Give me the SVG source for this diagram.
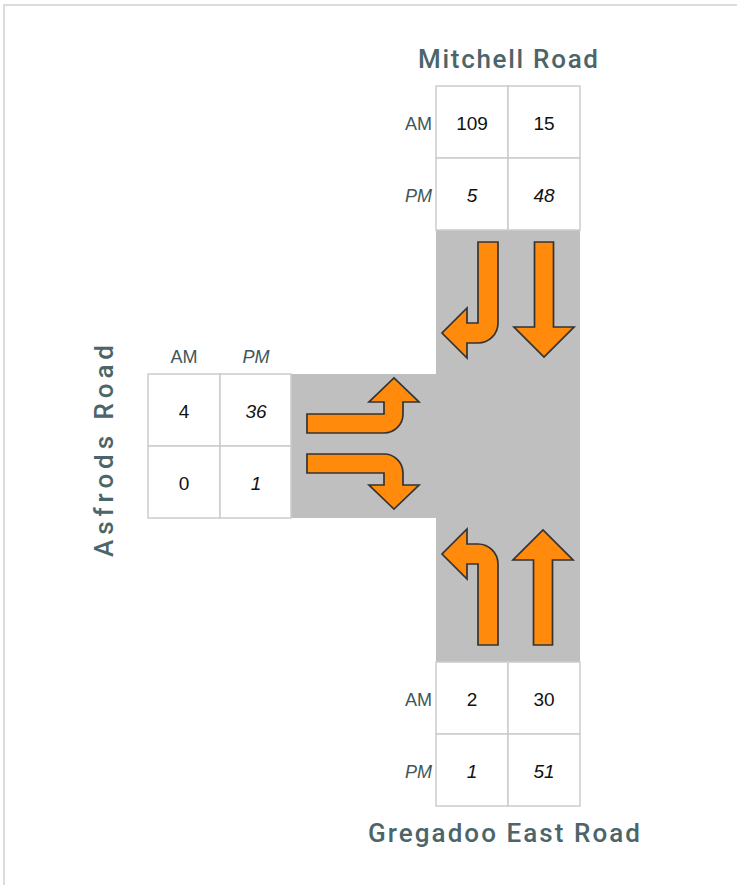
<svg xmlns="http://www.w3.org/2000/svg" width="737" height="885" viewBox="0 0 737 885">
  <style>
    .frame { stroke: #dcdcdc; stroke-width: 2; fill: none; }
    .road { fill: #bfbfbf; }
    .cell { fill: #ffffff; stroke: #cccccc; stroke-width: 1.5; }
    .arrow { fill: #ff8a0c; stroke: #333333; stroke-width: 1.7; stroke-linejoin: miter; }
    .num { font-family: "Liberation Sans", Arial, sans-serif; font-size: 19px; fill: #111111; text-anchor: middle; }
    .pm { font-style: italic; }
    .tag { font-family: "Liberation Sans", Arial, sans-serif; font-size: 18px; fill: #3e5659; }
    .name { font-family: Roboto, "Liberation Sans", Arial, sans-serif; font-weight: 500; font-size: 26px; fill: #4b6569; }
  </style>
  <defs>
    <!-- straight arrow pointing down, origin at top centre of shaft -->
    <path id="straight" d="M -9.5 0 H 9.5 V 85 H 30 L 0 115 L -30 85 H -9.5 Z"/>
    <!-- shaft coming down, turning to the left -->
    <path id="turnDownLeft" d="M 478 242 H 498 V 323 A 20 20 0 0 1 478 343 H 467 V 358 L 442 333 L 467 308 V 323 H 478 Z"/>
    <!-- shaft coming from the left, turning upward -->
    <path id="turnRightUp" d="M 307 414 H 384 V 402 H 369 L 394 378 L 419 402 H 403 V 414 A 19 19 0 0 1 384 433 H 307 Z"/>
  </defs>

  <!-- outer frame edges -->
  <path class="frame" d="M 4 885 V 5 H 737"/>

  <!-- road surface -->
  <g id="roads">
    <rect class="road" x="436" y="230" width="144" height="432"/>
    <rect class="road" x="291" y="374" width="145" height="144"/>
  </g>

  <!-- turning movements -->
  <g id="movements">
    <use href="#turnDownLeft" class="arrow"/>
    <use href="#straight" class="arrow" transform="translate(544 242)"/>
    <use href="#turnRightUp" class="arrow"/>
    <use href="#turnRightUp" class="arrow" transform="translate(0 887) scale(1 -1)"/>
    <use href="#turnDownLeft" class="arrow" transform="translate(0 887) scale(1 -1)"/>
    <use href="#straight" class="arrow" transform="translate(543 645) scale(1 -1)"/>
  </g>

  <!-- north approach: Mitchell Road -->
  <g id="north">
    <text class="name" x="418" y="68" textLength="180" lengthAdjust="spacing">Mitchell Road</text>
    <rect class="cell" x="436" y="86" width="72" height="72"/>
    <rect class="cell" x="508" y="86" width="72" height="72"/>
    <rect class="cell" x="436" y="158" width="72" height="72"/>
    <rect class="cell" x="508" y="158" width="72" height="72"/>
    <text class="tag" x="432" y="130" text-anchor="end">AM</text>
    <text class="tag pm" x="432" y="202" text-anchor="end">PM</text>
    <text class="num" x="472" y="130">109</text>
    <text class="num" x="544" y="130">15</text>
    <text class="num pm" x="472" y="202">5</text>
    <text class="num pm" x="544" y="202">48</text>
  </g>

  <!-- west approach: Asfrods Road -->
  <g id="west">
    <text class="name" transform="translate(113 557) rotate(-90)" textLength="212" lengthAdjust="spacing">Asfrods Road</text>
    <rect class="cell" x="148" y="374" width="72" height="72"/>
    <rect class="cell" x="220" y="374" width="71" height="72"/>
    <rect class="cell" x="148" y="446" width="72" height="72"/>
    <rect class="cell" x="220" y="446" width="71" height="72"/>
    <text class="tag" x="184" y="363" text-anchor="middle">AM</text>
    <text class="tag pm" x="256" y="363" text-anchor="middle">PM</text>
    <text class="num" x="184" y="418">4</text>
    <text class="num pm" x="256" y="418">36</text>
    <text class="num" x="184" y="490">0</text>
    <text class="num pm" x="256" y="490">1</text>
  </g>

  <!-- south approach: Gregadoo East Road -->
  <g id="south">
    <rect class="cell" x="436" y="662" width="72" height="72"/>
    <rect class="cell" x="508" y="662" width="72" height="72"/>
    <rect class="cell" x="436" y="734" width="72" height="72"/>
    <rect class="cell" x="508" y="734" width="72" height="72"/>
    <text class="tag" x="432" y="706" text-anchor="end">AM</text>
    <text class="tag pm" x="432" y="778" text-anchor="end">PM</text>
    <text class="num" x="472" y="706">2</text>
    <text class="num" x="544" y="706">30</text>
    <text class="num pm" x="472" y="778">1</text>
    <text class="num pm" x="544" y="778">51</text>
    <text class="name" x="368" y="842" textLength="272" lengthAdjust="spacing">Gregadoo East Road</text>
  </g>
</svg>
